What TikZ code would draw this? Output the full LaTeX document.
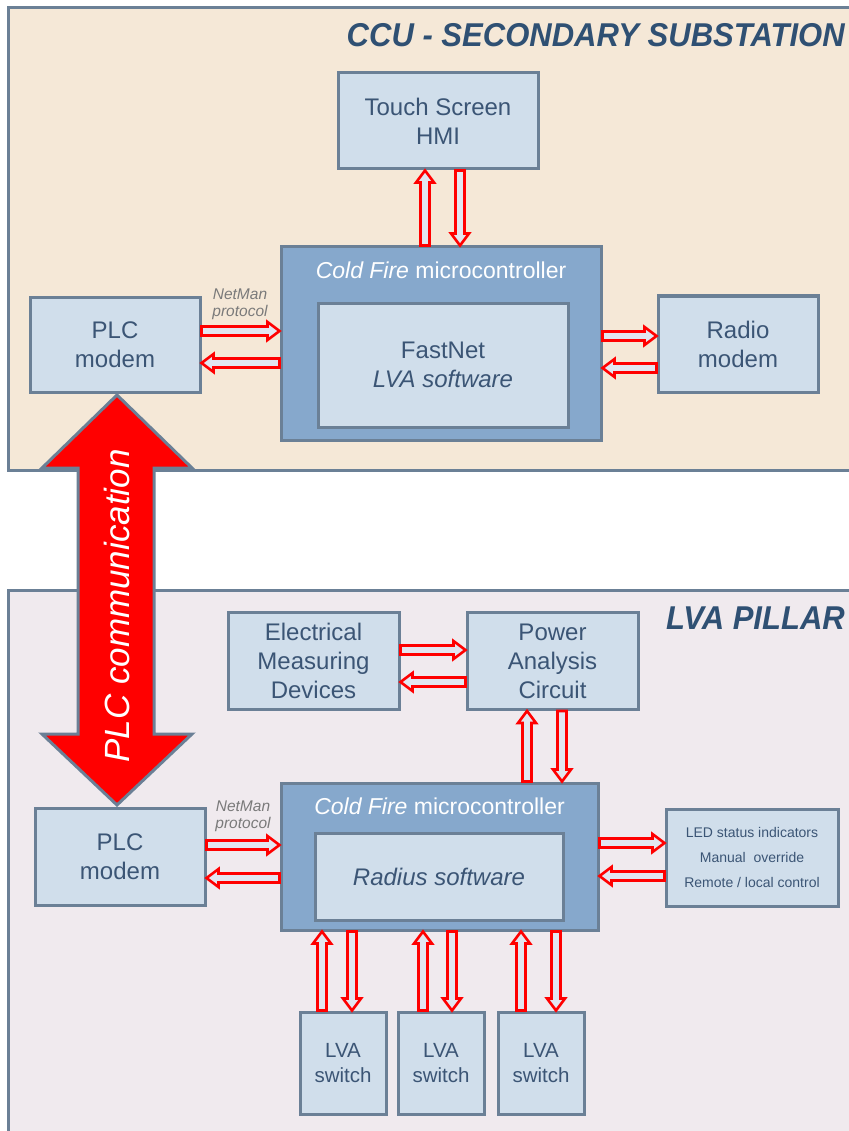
\documentclass[tikz,border=0pt]{standalone}
\usepackage{fontspec}
\setmainfont{Liberation Sans}
\usetikzlibrary{calc}
\definecolor{txt}{HTML}{3B5575}
\definecolor{bord}{HTML}{6B8096}
\definecolor{boxf}{HTML}{D0DEEB}
\definecolor{mcu}{HTML}{86A8CC}
\definecolor{topbg}{HTML}{F5E8D7}
\definecolor{botbg}{HTML}{F0EAEE}
\definecolor{ttl}{HTML}{2F5073}
\definecolor{arrf}{HTML}{E2E6F0}
\definecolor{netgray}{HTML}{7A7A7A}
\tikzset{
  panel/.style={draw=bord, line width=3pt},
  blk/.style={rectangle, draw=bord, line width=3pt, fill=boxf, text=txt, align=center,
    inner sep=0pt, font=\fontsize{24}{29}\selectfont},
  mcubox/.style={rectangle, draw=bord, line width=3pt, fill=mcu, inner sep=0pt},
  mcutitle/.style={text=white, font=\fontsize{23}{27}\selectfont},
  netman/.style={text=netgray, align=center, font=\fontsize{15.5}{17}\selectfont\itshape},
  harrow/.style={draw=red, line width=2.6pt, fill=arrf, line join=miter},
  title/.style={anchor=east, text=ttl, inner sep=0pt, font=\fontsize{33}{33}\selectfont\bfseries\itshape},
  bigarrow/.style={fill=red, draw=bord, line width=3pt, line join=miter}
}
% hollow arrow from #1 to #2 (coordinates in parentheses)
\newcommand\hollowarr[2]{%
  \path[harrow] let \p1=#1, \p2=#2,
    \n1={atan2(\y2-\y1,\x2-\x1)}, \n2={veclen(\x2-\x1,\y2-\y1)} in
    [shift={(\p1)}, rotate=\n1]
    (0pt,4.5pt) -- ({\n2-12pt},4.5pt) -- ({\n2-12pt},9pt) -- ({\n2*1pt},0pt)
    -- ({\n2-12pt},-9pt) -- ({\n2-12pt},-4.5pt) -- (0pt,-4.5pt) -- cycle;}
\begin{document}
\begin{tikzpicture}[x=1pt,y=-1pt]
\useasboundingbox (0,0) rectangle (848,1131);
\fill[white] (0,0) rectangle (848,1131);
% panels
\draw[panel, fill=topbg] (8,8) rectangle (870,470);
\draw[panel, fill=botbg] (8,590) rectangle (870,1150);
\node[title] (t1) at (845,35) {\scalebox{0.94}[1]{CCU - SECONDARY SUBSTATION}};
\node[title] (t2) at (845,618) {\scalebox{0.94}[1]{LVA PILLAR}};

% ---- top panel ----
\node[blk, minimum width=200pt, minimum height=96pt] (hmi) at (438,121) {Touch Screen\\HMI};
\node[mcubox, minimum width=320pt, minimum height=193pt] (cf1) at (441,343.5) {};
\node[mcutitle] (cf1t) at (441,270) {\itshape Cold Fire\upshape{} microcontroller};
\node[blk, minimum width=250pt, minimum height=124pt] (fn) at (443,365) {FastNet\\\itshape LVA software};
\node[blk, minimum width=170pt, minimum height=95pt] (plc1) at (115,344.5) {PLC\\modem};
\node[blk, minimum width=160pt, minimum height=96pt] (radio) at (738,344) {Radio\\modem};
\node[netman] (nm1) at (240,304) {NetMan\\protocol};

\hollowarr{(plc1.east |- 0,331)}{(cf1.west |- 0,331)}
\hollowarr{(cf1.west |- 0,363)}{(plc1.east |- 0,363)}
\hollowarr{(cf1.north -| 425,0)}{(hmi.south -| 425,0)}
\hollowarr{(hmi.south -| 460,0)}{(cf1.north -| 460,0)}
\hollowarr{(cf1.east |- 0,336)}{(radio.west |- 0,336)}
\hollowarr{(radio.west |- 0,368)}{(cf1.east |- 0,368)}

% ---- bottom panel ----
\node[blk, minimum width=171pt, minimum height=97pt] (emd) at (313.5,661) {Electrical\\Measuring\\Devices};
\node[blk, minimum width=171pt, minimum height=97pt] (pac) at (552.5,661) {Power\\Analysis\\Circuit};
\node[mcubox, minimum width=317pt, minimum height=147pt] (cf2) at (439.5,856.5) {};
\node[mcutitle] (cf2t) at (439.5,806) {\itshape Cold Fire\upshape{} microcontroller};
\node[blk, minimum width=248pt, minimum height=87pt, font=\fontsize{24}{29}\selectfont\itshape] (rad) at (439,876.5) {Radius software};
\node[blk, minimum width=170pt, minimum height=97pt] (plc2) at (120,856.5) {PLC\\modem};
\node[blk, minimum width=172pt, minimum height=97pt, font=\fontsize{14}{25}\selectfont] (led) at (752,857.5) {LED status indicators\\Manual\ \ override\\Remote / local control};
\node[netman] (nm2) at (243,816) {NetMan\\protocol};
\node[blk, minimum width=86pt, minimum height=102pt, font=\fontsize{20.5}{25}\selectfont] (sw1) at (343,1063) {LVA\\switch};
\node[blk, minimum width=86pt, minimum height=102pt, font=\fontsize{20.5}{25}\selectfont] (sw2) at (441,1063) {LVA\\switch};
\node[blk, minimum width=86pt, minimum height=102pt, font=\fontsize{20.5}{25}\selectfont] (sw3) at (541,1063) {LVA\\switch};

\hollowarr{(emd.east |- 0,650)}{(pac.west |- 0,650)}
\hollowarr{(pac.west |- 0,682)}{(emd.east |- 0,682)}
\hollowarr{(cf2.north -| 527,0)}{(pac.south -| 527,0)}
\hollowarr{(pac.south -| 562,0)}{(cf2.north -| 562,0)}
\hollowarr{(plc2.east |- 0,845)}{(cf2.west |- 0,845)}
\hollowarr{(cf2.west |- 0,878)}{(plc2.east |- 0,878)}
\hollowarr{(cf2.east |- 0,843)}{(led.west |- 0,843)}
\hollowarr{(led.west |- 0,876)}{(cf2.east |- 0,876)}
\hollowarr{(sw1.north -| 322,0)}{(cf2.south -| 322,0)}
\hollowarr{(cf2.south -| 352,0)}{(sw1.north -| 352,0)}
\hollowarr{(sw2.north -| 423,0)}{(cf2.south -| 423,0)}
\hollowarr{(cf2.south -| 452,0)}{(sw2.north -| 452,0)}
\hollowarr{(sw3.north -| 521,0)}{(cf2.south -| 521,0)}
\hollowarr{(cf2.south -| 556,0)}{(sw3.north -| 556,0)}

% ---- big PLC communication arrow ----
\coordinate (btop) at (117,395);
\coordinate (bbot) at (117,805);
\draw[bigarrow] (btop) -- (192,468) -- (154,468) -- (154,734) -- (192,734) -- (bbot)
  -- (42,734) -- (78,734) -- (78,468) -- (42,468) -- cycle;
\node[rotate=90, text=white, font=\fontsize{35}{35}\selectfont\itshape] (plctxt) at (117,606) {PLC communication};
\end{tikzpicture}
\end{document}
